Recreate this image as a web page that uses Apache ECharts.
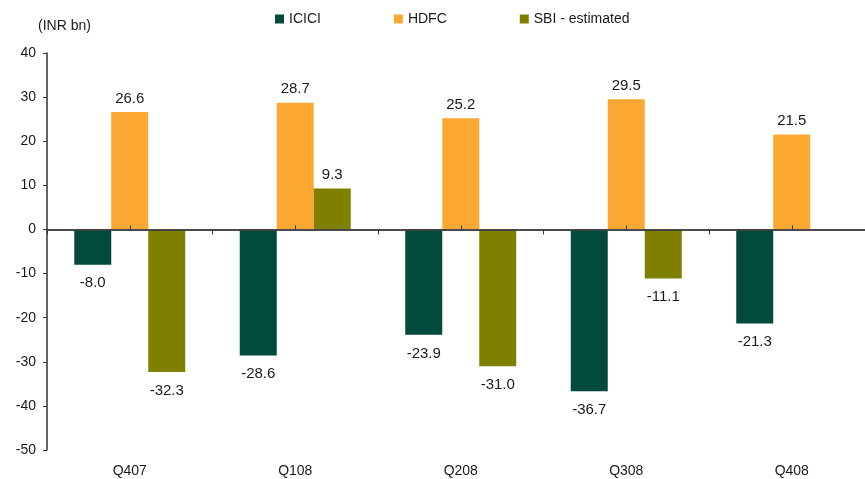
<!DOCTYPE html>
<html>
<head>
<meta charset="utf-8">
<script src="https://cdn.jsdelivr.net/npm/echarts@6/dist/echarts.min.js"></script>
<style>
html,body{margin:0;padding:0;background:#fff;}
#chart{width:865px;height:479px;}
</style>
</head>
<body>
<div id="chart"></div>
<script>
const categories = ['Q407', 'Q108', 'Q208', 'Q308', 'Q408'];
const seriesNames = ['ICICI', 'HDFC', 'SBI - estimated'];
const icici = [-8.0, -28.6, -23.9, -36.7, -21.3];
const hdfc = [26.6, 28.7, 25.2, 29.5, 21.5];
const sbi = [-32.3, 9.3, -31.0, -11.1, null];
const yMin = -50, yMax = 40, yStep = 10;

const FONT = "'Liberation Sans', Arial, sans-serif";
const colors = ['#024B3C', '#FAA832', '#808000'];

function buildData(arr) {
  return arr.map(v => {
    if (v === null) return '-';
    return {
      value: v,
      label: v >= 0 ? { position: 'top', distance: 6 } : { position: 'bottom', distance: 11 }
    };
  });
}

function makeSeries(name, arr, color) {
  return {
    name: name,
    type: 'bar',
    xAxisIndex: 0,
    yAxisIndex: 0,
    data: buildData(arr),
    barWidth: 37,
    barGap: '0%',
    itemStyle: { color: color },
    label: {
      show: true,
      fontFamily: FONT,
      fontSize: 15,
      color: '#1a1a1a',
      formatter: p => Number(p.value).toFixed(1)
    },
    z: 2
  };
}

const gridBox = { left: 47, right: -9.5, top: 53, bottom: 29, containLabel: false, outerBoundsMode: 'none' };

const chart = echarts.init(document.getElementById('chart'), null, { renderer: 'canvas' });
chart.setOption({
  animation: false,
  backgroundColor: '#fff',
  textStyle: { fontFamily: FONT },
  grid: [Object.assign({}, gridBox), Object.assign({}, gridBox), Object.assign({}, gridBox)],
  legend: {
    data: seriesNames,
    left: 270,
    top: 7,
    itemWidth: 9,
    itemHeight: 9,
    itemGap: 73,
    icon: 'rect',
    textStyle: { fontFamily: FONT, fontSize: 14, color: '#1a1a1a' }
  },
  graphic: [{
    type: 'text',
    left: 38,
    top: 19,
    style: { text: '(INR bn)', font: '14px ' + FONT, fill: '#1a1a1a' }
  }],
  xAxis: [
    {
      gridIndex: 0,
      type: 'category',
      data: categories,
      position: 'bottom',
      z: 5,
      axisLine: { onZero: true, lineStyle: { color: '#404040', width: 1.5 } },
      axisTick: { show: true, length: 5, lineStyle: { color: '#333' } },
      axisLabel: { show: false },
      splitLine: { show: false }
    },
    {
      gridIndex: 1,
      type: 'category',
      data: categories,
      position: 'bottom',
      z: 6,
      axisLine: { show: true, onZero: true, lineStyle: { color: '#404040', width: 1.5 } },
      axisTick: { show: true, alignWithLabel: true, inside: true, length: 4, lineStyle: { color: '#333' } },
      axisLabel: { show: false },
      splitLine: { show: false }
    },
    {
      gridIndex: 2,
      type: 'category',
      data: categories,
      position: 'bottom',
      axisLine: { show: false, onZero: false },
      axisTick: { show: false },
      axisLabel: { show: true, margin: 14, fontFamily: FONT, fontSize: 14, color: '#1a1a1a' },
      splitLine: { show: false }
    }
  ],
  yAxis: [
    {
      gridIndex: 0,
      type: 'value',
      min: yMin,
      max: yMax,
      interval: yStep,
      z: 5,
      axisLine: { show: true, lineStyle: { color: '#333', width: 1.5 } },
      axisTick: { show: true, length: 4, lineStyle: { color: '#333' } },
      axisLabel: { margin: 11, fontFamily: FONT, fontSize: 14, color: '#1a1a1a' },
      splitLine: { show: false }
    },
    {
      gridIndex: 1,
      type: 'value',
      min: yMin,
      max: yMax,
      interval: yStep,
      show: false
    },
    {
      gridIndex: 2,
      type: 'value',
      min: yMin,
      max: yMax,
      interval: yStep,
      show: false
    }
  ],
  series: [
    makeSeries(seriesNames[0], icici, colors[0]),
    makeSeries(seriesNames[1], hdfc, colors[1]),
    makeSeries(seriesNames[2], sbi, colors[2])
  ]
});
</script>
</body>
</html>
